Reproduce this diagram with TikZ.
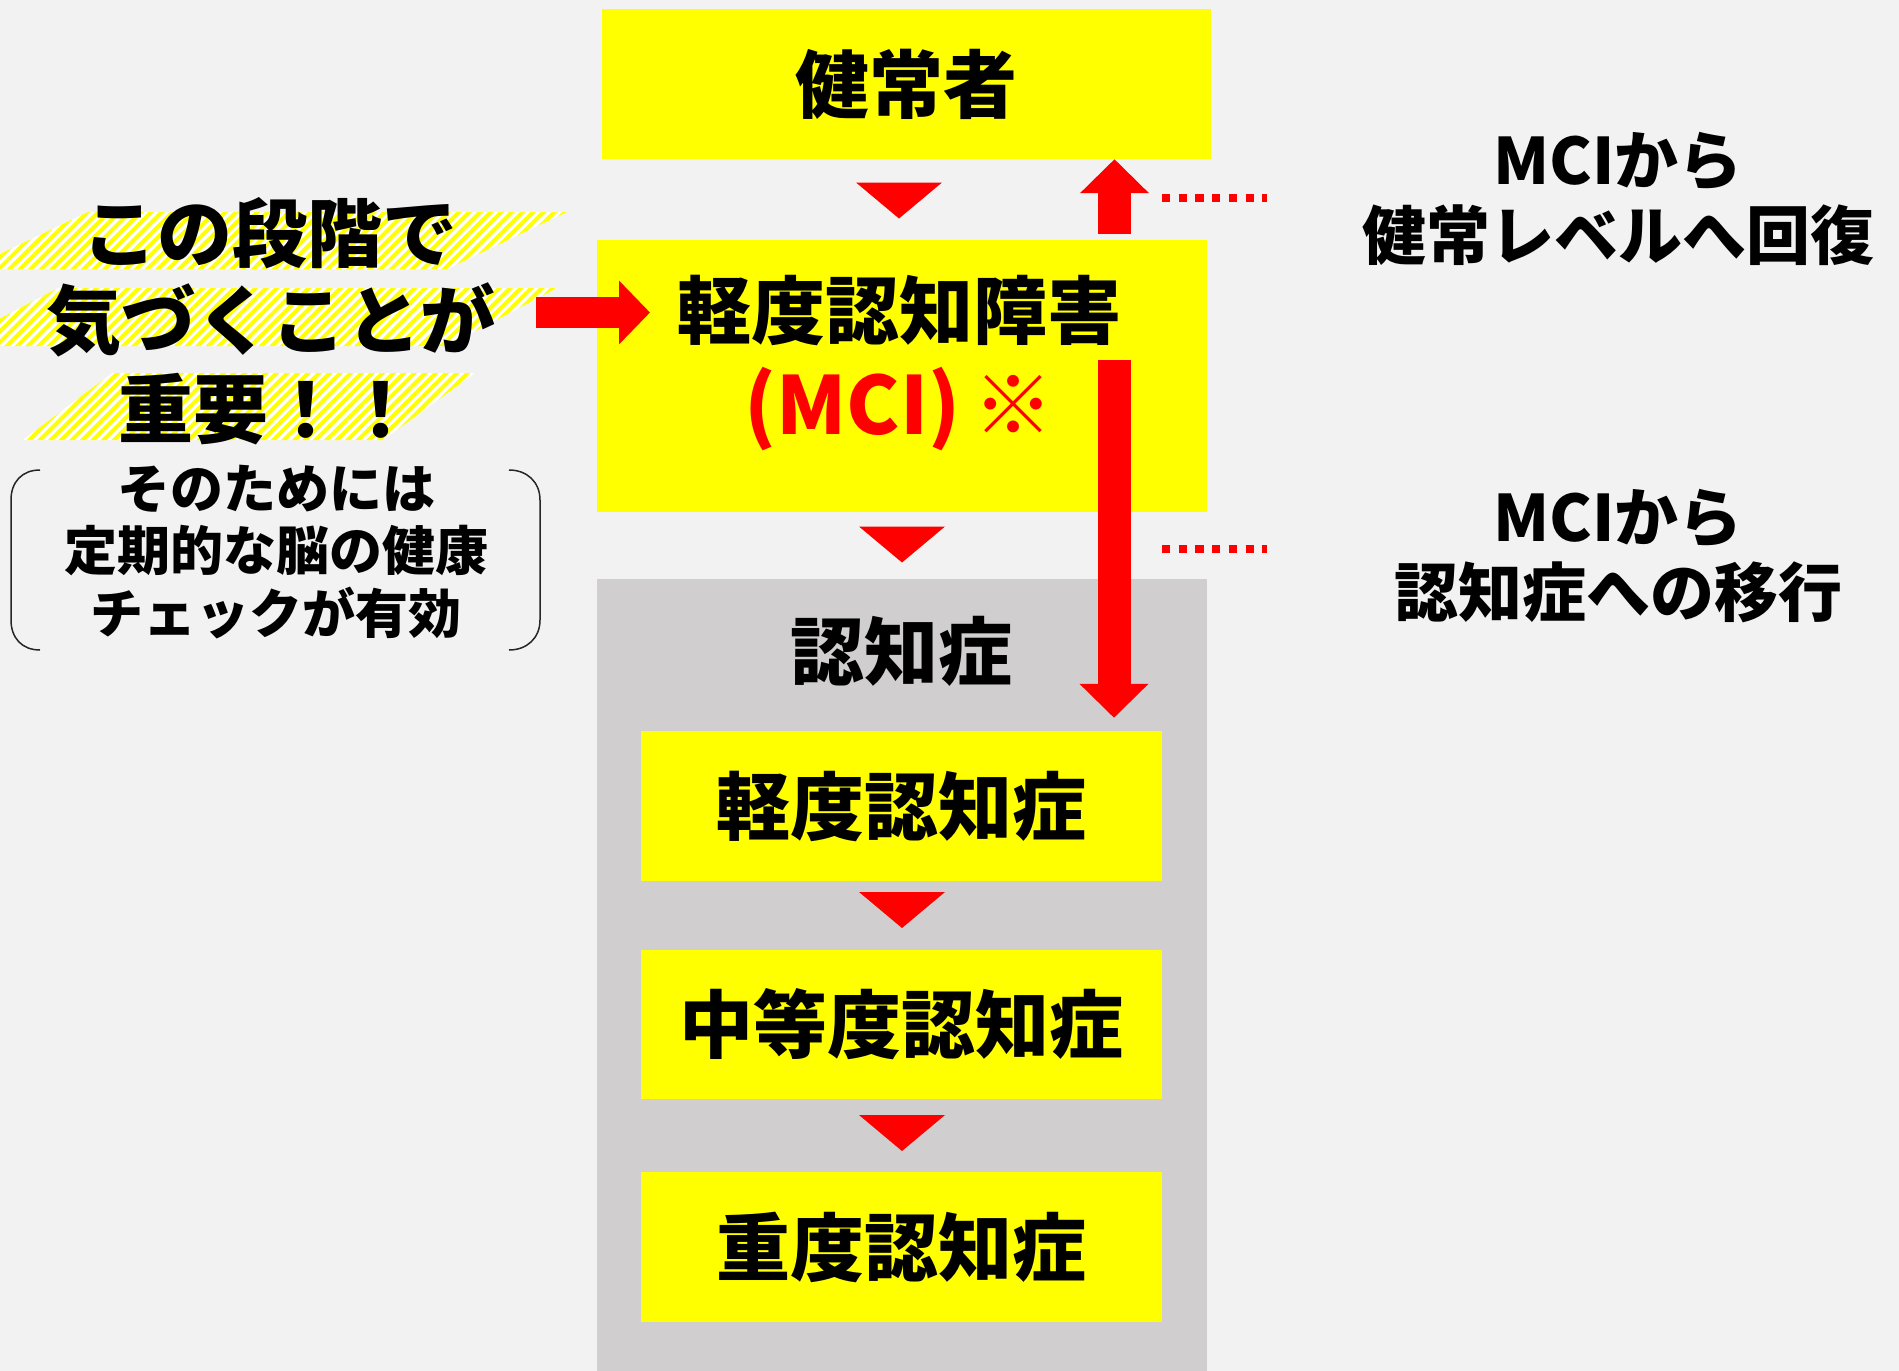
\documentclass[tikz,border=0pt]{standalone}
\usepackage{fontspec}
\setmainfont{Noto Sans CJK JP}
\usetikzlibrary{arrows.meta,patterns.meta}

\definecolor{bgGray}{HTML}{F2F2F2}
\definecolor{boxYellow}{HTML}{FFFF00}
\definecolor{dementiaGray}{HTML}{D0CECE}
\definecolor{arrowRed}{HTML}{FF0000}

\newcommand\stagefont{\fontsize{74}{96}\selectfont\bfseries}
\newcommand\notefont{\fontsize{64}{75}\selectfont\bfseries}
\newcommand\tipfont{\fontsize{53}{62.5}\selectfont\bfseries}
\newcommand\callfont{\fontsize{75}{80}\selectfont\bfseries}
\newcommand\downtri[1]{\fill[arrowRed] (#1) ++(-43,-18) -- ++(86,0) -- ++(-43,36) -- cycle;}

\tikzset{
  stage/.style={fill=boxYellow, inner sep=0pt, font=\stagefont},
  bigarrow/.style={arrowRed, line width=33pt, -{Triangle[width=67pt,length=34pt]}},
  dotline/.style={arrowRed, line width=8.3pt, dash pattern=on 8.3pt off 8.4pt},
  hatch/.style={preaction={fill=white}, pattern={Lines[angle=45,distance=7.5pt,line width=4pt]}, pattern color=boxYellow},
  bracketline/.style={black!85, line width=1.5pt}
}

\begin{document}
\begin{tikzpicture}[x=1pt,y=-1pt]
  \useasboundingbox (0,0) rectangle (1899,1371);
  \fill[bgGray] (0,0) rectangle (1899,1371);

  \node[stage, minimum width=609pt, minimum height=150pt] (healthy) at (906,84) {健常者};
  \node[fill=boxYellow, inner sep=0pt, minimum width=610pt, minimum height=272pt] (mci) at (902,376) {};
  \node[font=\stagefont, align=center] (mcilabel) at (899,363) {軽度認知障害\\\textcolor{arrowRed}{\fontsize{80}{96}\selectfont(MCI)\,※}};
  \node[fill=dementiaGray, inner sep=0pt, minimum width=610pt, minimum height=792pt] (dementia) at (902,975) {};
  \node[font=\stagefont] (dementialabel) at (901,651) {認知症};
  \node[stage, minimum width=521pt, minimum height=150pt] (mild) at (901.5,806) {軽度認知症};
  \node[stage, minimum width=521pt, minimum height=149pt] (moderate) at (901.5,1024.5) {中等度認知症};
  \node[stage, minimum width=521pt, minimum height=150pt] (severe) at (901.5,1247) {重度認知症};

  \coordinate (t1) at (899,200.5);
  \coordinate (t2) at (902,544.5);
  \coordinate (t3) at (902,910);
  \coordinate (t4) at (902,1133);
  \foreach \t in {t1,t2,t3,t4} {\downtri{\t}}

  \coordinate (upcol) at (1114.5,0);
  \draw[bigarrow] ([yshift=6pt]mci.north -| upcol) -- (healthy.south -| upcol);
  \coordinate (dropstart) at (1114,360);
  \draw[bigarrow, shorten >=13pt] (dropstart) -- (mild.north -| dropstart);

  \coordinate (recovdot) at (1162,198);
  \coordinate (transdot) at (1162,549);
  \draw[dotline] (recovdot) -- ++(105,0);
  \draw[dotline] (transdot) -- ++(105,0);
  \node[font=\notefont, align=center] (recovery) at (1618,198.5) {MCIから\\健常レベルへ回復};
  \node[font=\notefont, align=center] (transition) at (1618,556.5) {MCIから\\認知症への移行};

  \path[hatch] (88,212) -- (567,212) -- (447,269) -- (-32,269) -- cycle;
  \path[hatch] (58,288) -- (557,288) -- (447,346) -- (-52,346) -- cycle;
  \path[hatch] (112,373) -- (475,373) -- (383,440) -- (23,440) -- cycle;
  \node[font=\callfont] (call1) at (270,233) {この段階で};
  \node[font=\callfont] (call2) at (271,320) {気づくことが};
  \node[font=\callfont] (call3) at (268,409) {重要！！};

  \coordinate (notice) at (536,312.5);
  \draw[bigarrow, line width=31pt, -{Triangle[width=62pt,length=31pt]}] (notice) -- ++(114,0);

  \node[font=\tipfont, align=center] (tip) at (276,552) {そのためには\\定期的な脳の健康\\チェックが有効};
  \draw[bracketline] (40,470) .. controls (22,470) and (11,482) .. (11,500) -- (11,620) .. controls (11,638) and (22,650) .. (40,650);
  \draw[bracketline] (509,470) .. controls (527,470) and (540,482) .. (540,500) -- (540,620) .. controls (540,638) and (527,650) .. (509,650);
\end{tikzpicture}
\end{document}
